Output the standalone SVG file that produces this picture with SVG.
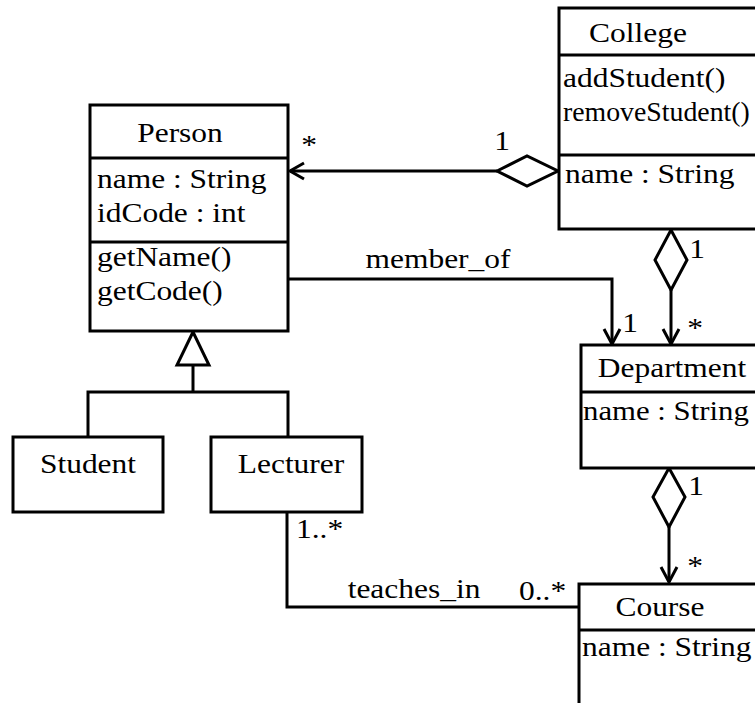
<svg xmlns="http://www.w3.org/2000/svg" width="755" height="703" viewBox="0 0 755 703">
<style>
.box{fill:#fff;stroke:#000;stroke-width:3}
.ln{fill:none;stroke:#000;stroke-width:3}
.dia{fill:#fff;stroke:#000;stroke-width:3;stroke-linejoin:miter}
text{font-family:"Liberation Serif","Times New Roman",serif;font-size:27px;fill:#000}
.c{text-anchor:middle}
</style>
<rect width="755" height="703" fill="#fff"/>
<g id="connectors">
  <!-- Person <>- College -->
  <line class="ln" x1="497" y1="171" x2="290" y2="171"/>
  <polyline class="ln" points="304,163 290,171 304,179"/>
  <polygon class="dia" points="497,171 527,156 558,171 527,186"/>
  <!-- member_of -->
  <polyline class="ln" points="288,279 612,279 612,344"/>
  <polyline class="ln" points="604,329 612,344 620,329"/>
  <!-- College <>- Department -->
  <line class="ln" x1="671" y1="290" x2="671" y2="344"/>
  <polyline class="ln" points="663,329 671,344 679,329"/>
  <polygon class="dia" points="671,230 687,260 671,290 655,260"/>
  <!-- Department <>- Course -->
  <line class="ln" x1="669" y1="527" x2="669" y2="582"/>
  <polyline class="ln" points="661,567 669,582 677,567"/>
  <polygon class="dia" points="669,468 685,497 669,527 653,497"/>
  <!-- generalization -->
  <polygon class="dia" points="193,332 177,365 209,365"/>
  <polyline class="ln" points="193,365 193,392"/>
  <polyline class="ln" points="88,437 88,392 288,392 288,437"/>
  <!-- teaches_in -->
  <polyline class="ln" points="287,513 287,607 579,607"/>
  <!-- labels -->
  <text class="c" transform="translate(309,154) scale(1.165,1)">*</text>
  <text class="c" transform="translate(502,150) scale(1.165,1)">1</text>
  <text class="c" transform="translate(438,268) scale(1.165,1)">member_of</text>
  <text class="c" transform="translate(630,332) scale(1.165,1)">1</text>
  <text class="c" transform="translate(697,258) scale(1.165,1)">1</text>
  <text class="c" transform="translate(695,337) scale(1.165,1)">*</text>
  <text class="c" transform="translate(696,495) scale(1.165,1)">1</text>
  <text class="c" transform="translate(695,575) scale(1.165,1)">*</text>
  <text transform="translate(296,538) scale(1.165,1)">1..*</text>
  <text class="c" transform="translate(414,598) scale(1.165,1)">teaches_in</text>
  <text transform="translate(519,600) scale(1.165,1)">0..*</text>
</g>
<g id="Person">
  <rect class="box" x="90" y="105" width="198" height="226"/>
  <line class="ln" x1="90" y1="158" x2="288" y2="158"/>
  <line class="ln" x1="90" y1="242" x2="288" y2="242"/>
  <text class="c" transform="translate(180,142) scale(1.165,1)">Person</text>
  <text transform="translate(97,188) scale(1.165,1)">name : String</text>
  <text transform="translate(97,222) scale(1.165,1)">idCode : int</text>
  <text transform="translate(97,266) scale(1.165,1)">getName()</text>
  <text transform="translate(97,300) scale(1.165,1)">getCode()</text>
</g>
<g id="College">
  <rect class="box" x="559" y="8" width="230" height="221"/>
  <line class="ln" x1="559" y1="55" x2="789" y2="55"/>
  <line class="ln" x1="559" y1="155" x2="789" y2="155"/>
  <text class="c" transform="translate(638,42) scale(1.165,1)">College</text>
  <text transform="translate(563,87) scale(1.165,1)">addStudent()</text>
  <text transform="translate(563,121) scale(1.03,1)">removeStudent()</text>
  <text transform="translate(565,183) scale(1.165,1)">name : String</text>
</g>
<g id="Department">
  <rect class="box" x="581" y="345" width="230" height="123"/>
  <line class="ln" x1="581" y1="392" x2="811" y2="392"/>
  <text class="c" transform="translate(672,377) scale(1.165,1)">Department</text>
  <text transform="translate(583,420) scale(1.14,1)">name : String</text>
</g>
<g id="Course">
  <rect class="box" x="579" y="584" width="230" height="160"/>
  <line class="ln" x1="579" y1="630" x2="809" y2="630"/>
  <text class="c" transform="translate(660,616) scale(1.165,1)">Course</text>
  <text transform="translate(582,656) scale(1.165,1)">name : String</text>
</g>
<g id="Student">
  <rect class="box" x="13" y="437" width="150" height="75"/>
  <text class="c" transform="translate(88,473) scale(1.165,1)">Student</text>
</g>
<g id="Lecturer">
  <rect class="box" x="211" y="437" width="151" height="75"/>
  <text class="c" transform="translate(291,473) scale(1.165,1)">Lecturer</text>
</g>
</svg>
